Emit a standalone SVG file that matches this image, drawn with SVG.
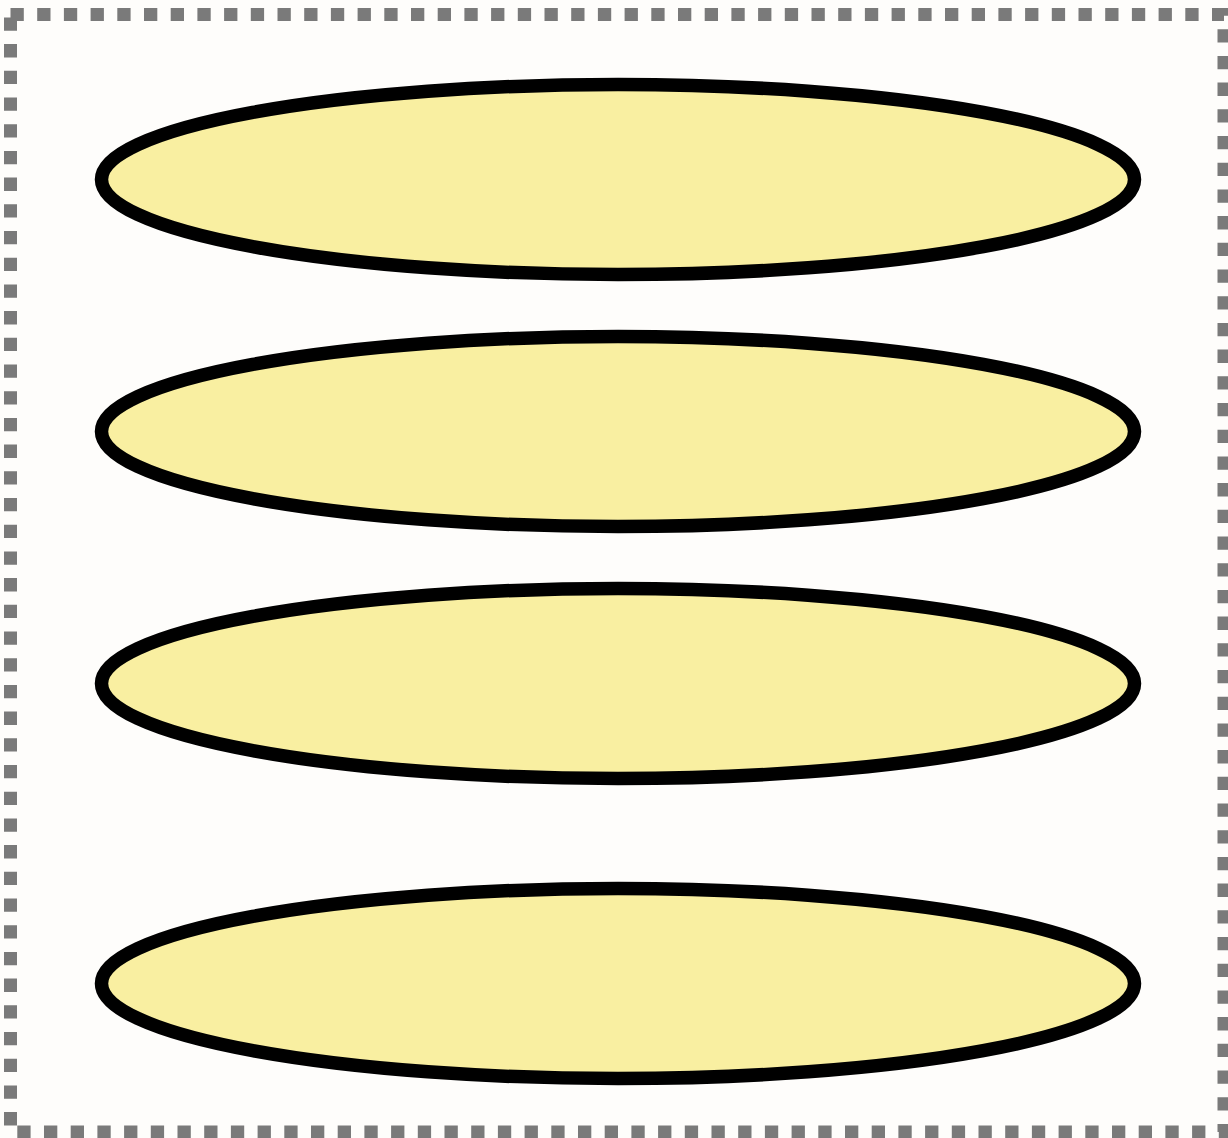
<svg xmlns="http://www.w3.org/2000/svg" width="1228" height="1138" viewBox="0 0 1228 1138">
<style>
.frame{fill:none;stroke:#7a7a7a;stroke-width:13;stroke-dasharray:13.3 13.4}
.node ellipse{fill:#f9efa1;stroke:#000;stroke-width:13.5}
</style>
<rect x="0" y="0" width="1228" height="1138" fill="#fefdfb"/>
<g id="frame"><rect class="frame" x="10.5" y="14.5" width="1213.5" height="1117.5"/></g>
<g id="connectors"></g>
<g id="node1" class="node"><ellipse cx="618" cy="179.5" rx="516.5" ry="95"/></g>
<g id="node2" class="node"><ellipse cx="618" cy="431.5" rx="516.5" ry="95"/></g>
<g id="node3" class="node"><ellipse cx="618" cy="683.5" rx="516.5" ry="95"/></g>
<g id="node4" class="node"><ellipse cx="618" cy="983.5" rx="516.5" ry="95"/></g>
</svg>
